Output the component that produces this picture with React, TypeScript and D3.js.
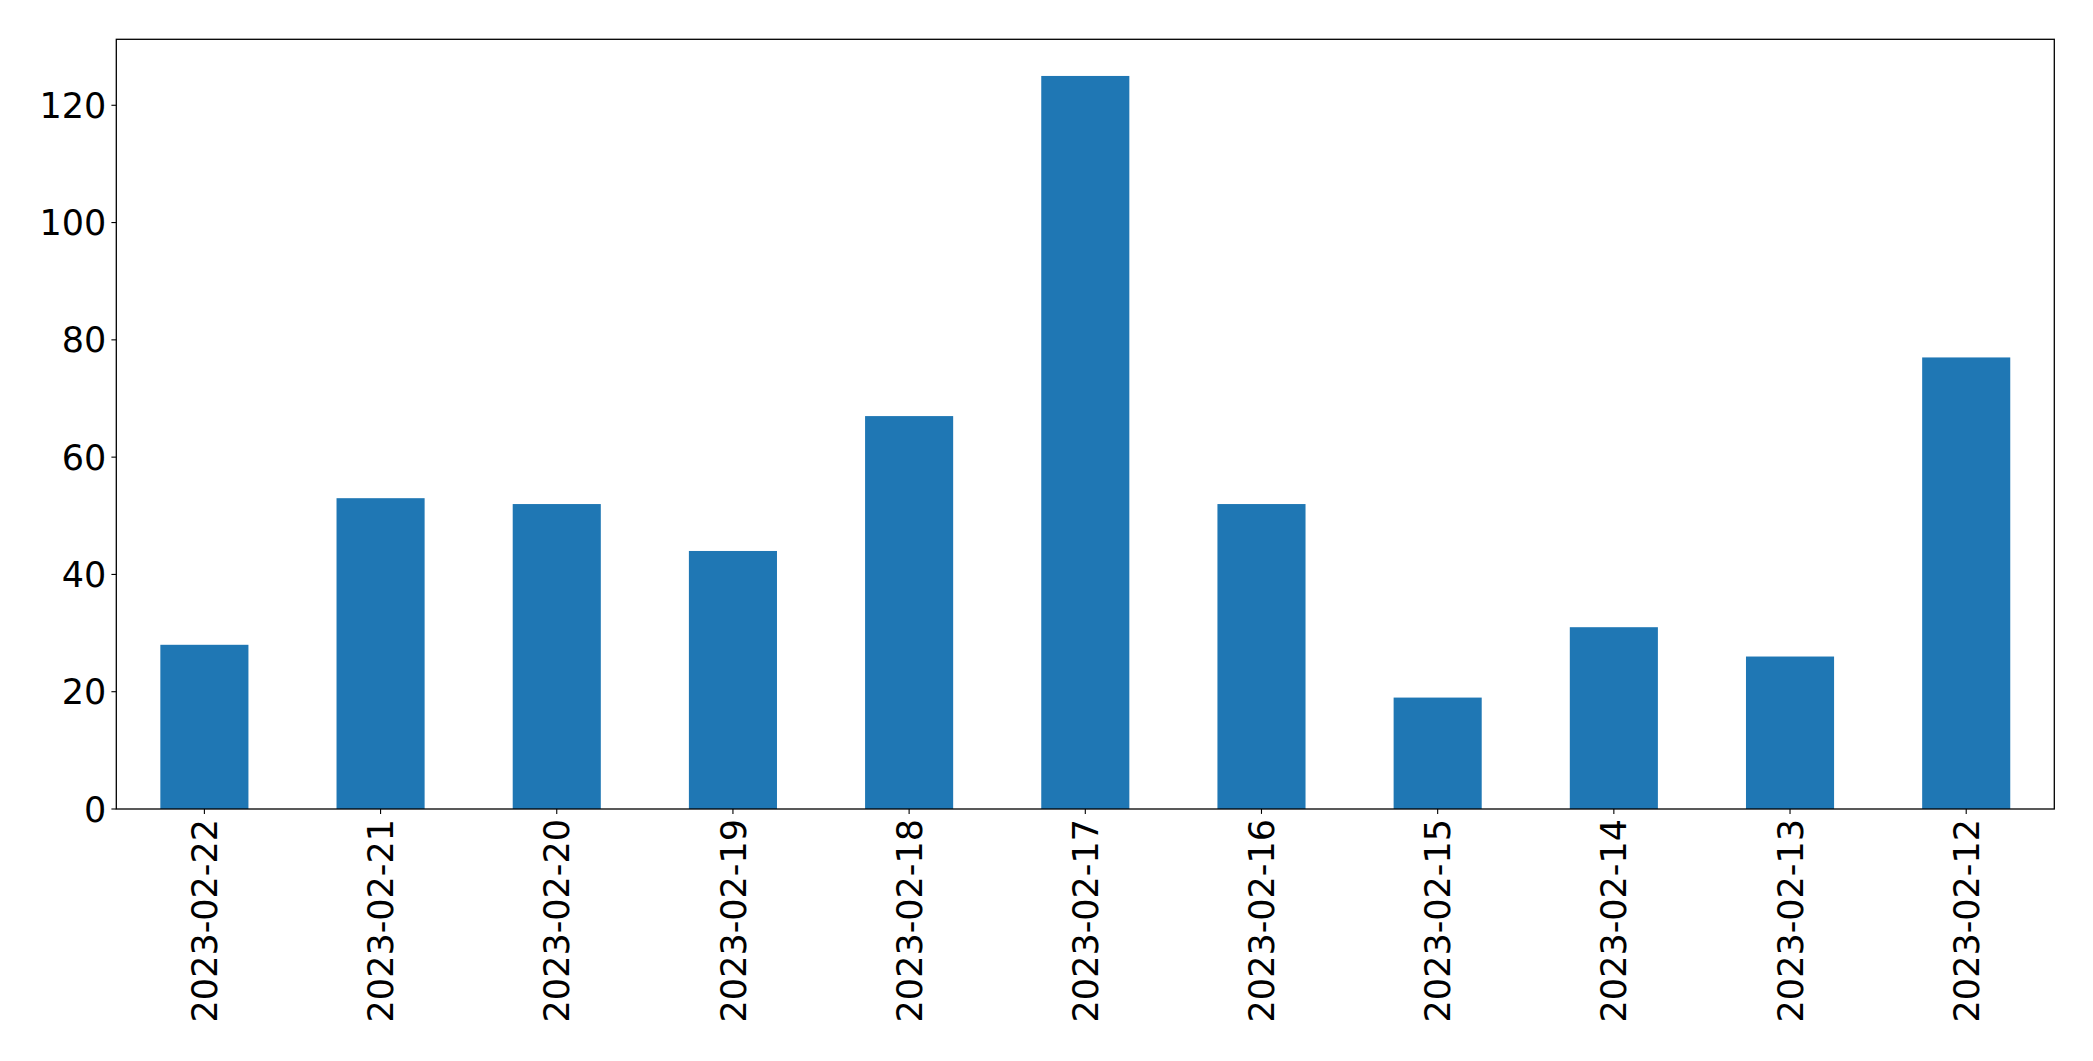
import React from "react";
import * as d3 from "d3";

const categories = ["2023-02-22","2023-02-21","2023-02-20","2023-02-19","2023-02-18","2023-02-17","2023-02-16","2023-02-15","2023-02-14","2023-02-13","2023-02-12"];
const values = [28, 53, 52, 44, 67, 125, 52, 19, 31, 26, 77];
const yTicks = [0, 20, 40, 60, 80, 100, 120];

const W = 2093, H = 1061;
const M = { left: 116.3, right: 2054.3, top: 39.3, bottom: 809 };
const FONT = "'DejaVu Sans', sans-serif";
const FS = 35;

export default function App() {
  const x = d3.scaleBand<string>().domain(categories).range([M.left, M.right]).paddingInner(0.5).paddingOuter(0.25);
  const yMax = d3.max(values)! * 1.05;
  const y = d3.scaleLinear().domain([0, yMax]).range([M.bottom, M.top]);
  return (
    <svg width={W} height={H} style={{ position: "absolute", left: 0, top: 0, background: "#fff" }}>
      {categories.map((c, i) => (
        <rect key={c} x={x(c)} y={y(values[i])} width={x.bandwidth()} height={y(0) - y(values[i])} fill="#1f77b4" />
      ))}
      <rect x={M.left} y={M.top} width={M.right - M.left} height={M.bottom - M.top} fill="none" stroke="#000" strokeWidth={1.3} />
      {yTicks.map(t => (
        <g key={t}>
          <line x1={M.left - 4.9} x2={M.left} y1={y(t)} y2={y(t)} stroke="#000" strokeWidth={1.1} />
          <text x={M.left - 10} y={y(t)} dy="0.36em" textAnchor="end" fontFamily={FONT} fontSize={FS} fill="#000">{t}</text>
        </g>
      ))}
      {categories.map(c => {
        const cx = x(c)! + x.bandwidth() / 2;
        return (
          <g key={c}>
            <line x1={cx} x2={cx} y1={M.bottom} y2={M.bottom + 4.9} stroke="#000" strokeWidth={1.1} />
            <text transform={`translate(${cx},${M.bottom + 10}) rotate(-90)`} dy="0.36em" textAnchor="end" fontFamily={FONT} fontSize={FS} fill="#000">{c}</text>
          </g>
        );
      })}
    </svg>
  );
}
